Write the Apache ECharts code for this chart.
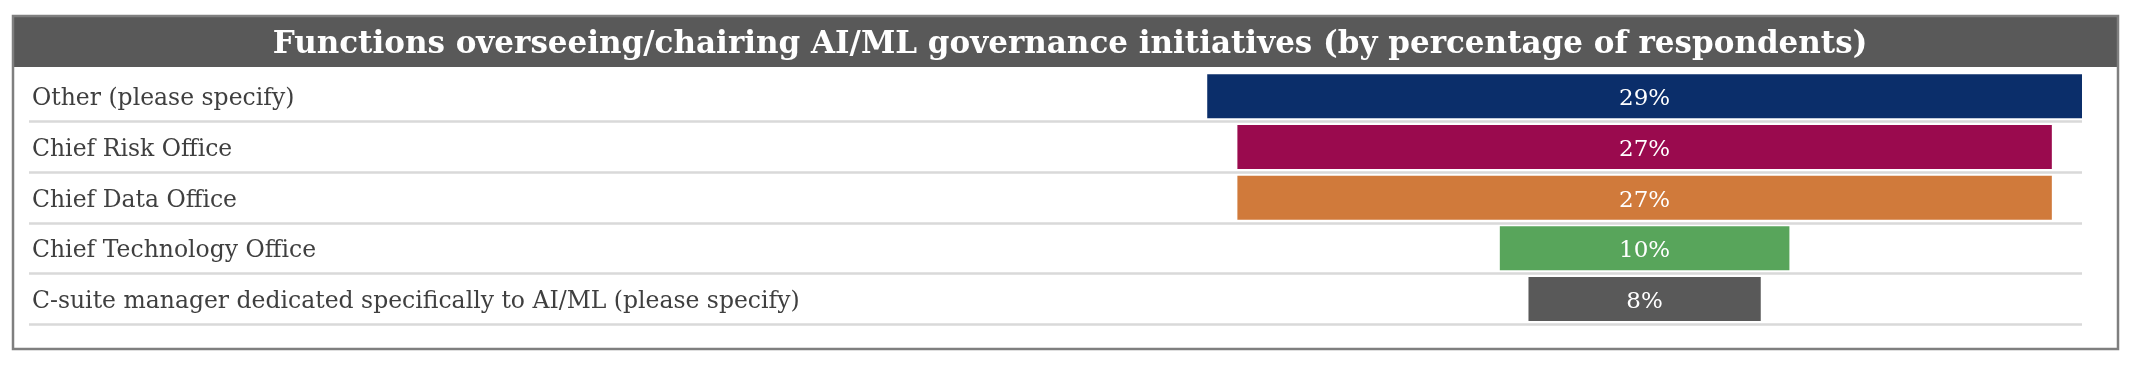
<!DOCTYPE html>
<html><head><meta charset="utf-8">
<script src="https://cdn.jsdelivr.net/npm/echarts@6/dist/echarts.min.js"></script>
<style>html,body{margin:0;padding:0;background:#fff}#c{width:2146px;height:370px}</style>
</head><body><div id="c"></div>
<script>
const titleText = 'Functions overseeing/chairing AI/ML governance initiatives (by percentage of respondents)';
const categories = [
  'Other (please specify)',
  'Chief Risk Office',
  'Chief Data Office',
  'Chief Technology Office',
  'C-suite manager dedicated specifically to AI/ML (please specify)'
];
const values = [29, 27, 27, 9.6, 7.7];
const colors = ['#0b2e6a', '#9a0a4e', '#d07a3b', '#58a55b', '#595959'];

const CENTER = 53.56; // axis value at the centre of the bar column
const maxV = Math.max(...values);
const offsets = values.map(v => CENTER - v / 2);

const chart = echarts.init(document.getElementById('c'));
chart.setOption({
  animation: false,
  backgroundColor: '#fff',
  graphic: [
    { type: 'rect', shape: { x: 13, y: 16, width: 2105, height: 51 }, style: { fill: '#595959' }, z: 0 },
    { type: 'rect', shape: { x: 13, y: 16, width: 2105, height: 333 }, style: { fill: 'none', stroke: '#7f7f7f', lineWidth: 2.5 }, z: 1 }
  ],
  title: {
    text: titleText, left: 1065, top: 24, textAlign: 'center',
    textStyle: { color: '#fff', fontFamily: 'DejaVu Serif', fontWeight: 'bold', fontSize: 31 }
  },
  grid: { left: 29, right: 64, top: 71, bottom: 45.7 },
  xAxis: { type: 'value', min: 0, max: CENTER + maxV / 2, show: false },
  yAxis: {
    type: 'category', data: categories, inverse: true,
    axisLine: { show: false }, axisTick: { show: false },
    axisLabel: { show: false },
    splitLine: { show: true, showMinLine: false, lineStyle: { color: '#d9d9d9', width: 2.5 } }
  },
  series: [
    { type: 'bar', stack: 's', data: offsets, itemStyle: { color: 'transparent' }, silent: true, barWidth: 44,
      label: { show: true, position: 'insideLeft', distance: 3, offset: [0, 3], color: '#3f3f3f',
        fontFamily: 'DejaVu Serif', fontSize: 23.5, formatter: p => categories[p.dataIndex] } },
    {
      type: 'bar', stack: 's', barWidth: 44,
      data: values.map((v, i) => ({ value: v, itemStyle: { color: colors[i] } })),
      label: { show: true, position: 'inside', offset: [0, 3], color: '#fff', fontFamily: 'DejaVu Serif', fontSize: 23,
        formatter: p => Math.round(p.value) + '%' }
    }
  ]
});
</script></body></html>
